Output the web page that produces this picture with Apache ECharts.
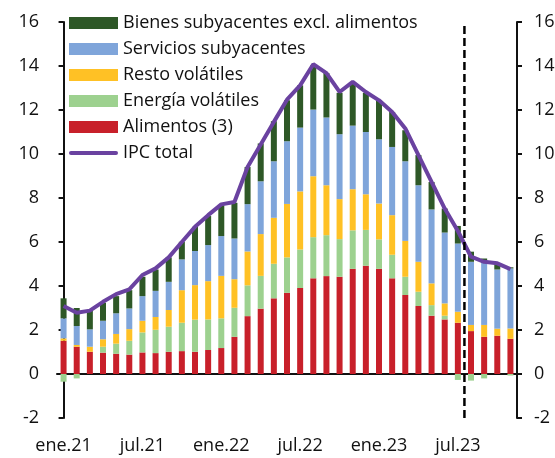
<!DOCTYPE html>
<html>
<head>
<meta charset="utf-8">
<script src="https://cdn.jsdelivr.net/npm/echarts/dist/echarts.min.js"></script>
<style>
    html, body { margin: 0; padding: 0; background: #fff; }
    #main { width: 555px; height: 458px; }
</style>
</head>
<body>
<div id="main"></div>
<script>
// meses ene.21 - nov.23
const meses = ['ene', 'feb', 'mar', 'abr', 'may', 'jun', 'jul', 'ago', 'sep', 'oct', 'nov', 'dic'];
const anios = ['21', '22', '23'];
const categorias = [];
for (let a = 0; a < anios.length; a++) {
    for (let m = 0; m < meses.length; m++) {
        categorias.push(meses[m] + '.' + anios[a]);
    }
}
categorias.length = 35;

// contribuciones (pp)
const alimentos = [1.51, 1.24, 1.01, 0.97, 0.92, 0.88, 0.98, 0.95, 1.01, 1.04, 1.01, 1.09, 1.18, 1.69, 2.63, 2.97, 3.44, 3.69, 3.91, 4.35, 4.45, 4.42, 4.78, 4.92, 4.78, 4.35, 3.59, 3.09, 2.65, 2.48, 2.33, 1.95, 1.69, 1.74, 1.60];
const energia = [-0.35, -0.2, 0, 0.27, 0.46, 0.63, 0.91, 1.06, 1.14, 1.29, 1.46, 1.39, 1.35, 1.32, 1.4, 1.49, 1.57, 1.61, 1.75, 1.87, 1.86, 1.71, 1.75, 1.63, 1.34, 1.07, 0.83, 0.65, 0.48, 0.17, -0.27, -0.3, -0.2, 0, -0.07];
const resto = [0.11, 0.08, 0.23, 0.34, 0.44, 0.53, 0.53, 0.58, 0.76, 1.48, 1.57, 1.74, 1.93, 1.3, 1.54, 1.9, 2.09, 2.43, 2.64, 2.77, 2.27, 1.82, 1.87, 1.62, 1.63, 1.8, 1.63, 1.36, 0.99, 0.56, 0.5, 0.28, 0.54, 0.32, 0.47];
const servicios = [0.91, 0.86, 0.79, 0.84, 0.94, 0.94, 1.12, 1.19, 1.28, 1.4, 1.55, 1.64, 1.81, 1.85, 2.15, 2.4, 2.57, 2.85, 2.9, 3.03, 3.08, 2.95, 2.89, 2.83, 2.92, 3.1, 3.62, 3.48, 3.36, 3.22, 3.1, 2.87, 2.83, 2.69, 2.73];
const bienes = [0.91, 0.82, 0.87, 0.82, 0.78, 0.83, 0.88, 0.97, 1.11, 0.8, 1.1, 1.32, 1.4, 1.62, 1.69, 1.72, 1.82, 1.86, 1.92, 2.01, 2.02, 1.88, 1.91, 1.78, 1.74, 1.59, 1.41, 1.37, 1.25, 1.09, 0.8, 0.46, 0.19, 0.23, 0.05];
const ipcTotal = [3.09, 2.78, 2.88, 3.28, 3.63, 3.85, 4.5, 4.8, 5.3, 6.0, 6.69, 7.22, 7.71, 7.82, 9.41, 10.43, 11.46, 12.47, 13.12, 14.08, 13.68, 12.82, 13.28, 12.82, 12.44, 11.91, 11.16, 9.95, 8.73, 7.52, 6.5, 5.33, 5.1, 5.03, 4.77];

// linea vertical punteada (entre jul.23 y ago.23)
const corte = 30.5;

const fuente = 'Open Sans';
const negro = '#111';
const morado = '#6a42a0';

function barra(nombre, datos, color) {
    return {
        name: nombre,
        type: 'bar',
        stack: 'total',
        barWidth: 6,
        data: datos,
        itemStyle: { color: color }
    };
}

function ejeY(pos) {
    return {
        type: 'value',
        position: pos,
        min: -2,
        max: 16,
        interval: 2,
        axisLine: { show: true, lineStyle: { color: negro, width: 2 } },
        axisTick: { show: true, length: 5, lineStyle: { color: negro, width: 2 } },
        axisLabel: { color: negro, fontSize: 18, fontFamily: fuente, margin: pos == 'left' ? 18 : 17 },
        splitLine: { show: false }
    };
}

let option = {
    animation: false,
    grid: { left: 57, right: 38, top: 22, bottom: 40, outerBoundsMode: 'none' },
    legend: {
        orient: 'vertical',
        left: 64,
        top: 8,
        itemWidth: 49,
        itemHeight: 12,
        itemGap: 6,
        textStyle: { color: negro, fontSize: 18, fontFamily: fuente, lineHeight: 20 },
        data: [
            { name: 'Bienes subyacentes excl. alimentos', icon: 'rect' },
            { name: 'Servicios subyacentes', icon: 'rect' },
            { name: 'Resto volátiles', icon: 'rect' },
            { name: 'Energía volátiles', icon: 'rect' },
            { name: 'Alimentos (3)', icon: 'rect' },
            { name: 'IPC total', icon: 'path://M2,0 L47,0 A2,2 0 0 1 47,4 L2,4 A2,2 0 0 1 2,0 Z' }
        ]
    },
    xAxis: [{
        // etiquetas abajo
        type: 'category',
        data: categorias,
        axisLine: { show: false, onZero: false },
        axisTick: { show: false },
        axisLabel: { interval: 5, color: negro, fontSize: 18, fontFamily: fuente, margin: 19 }
    }, {
        // linea del cero con marcas
        type: 'category',
        data: categorias,
        axisLine: { onZero: true, lineStyle: { color: negro, width: 2 } },
        axisTick: { interval: 5, length: 6, lineStyle: { color: negro, width: 2 } },
        axisLabel: { show: false }
    }, {
        type: 'value',
        min: -0.5,
        max: 34.5,
        show: false
    }],
    yAxis: [ejeY('left'), ejeY('right')],
    series: [
        barra('Alimentos (3)', alimentos, '#c8202a'),
        barra('Energía volátiles', energia, '#9dd18f'),
        barra('Resto volátiles', resto, '#ffc125'),
        barra('Servicios subyacentes', servicios, '#7fa5da'),
        barra('Bienes subyacentes excl. alimentos', bienes, '#2e5827'),
        {
            name: 'IPC total',
            type: 'line',
            data: ipcTotal,
            symbol: 'none',
            lineStyle: { color: morado, width: 4 },
            itemStyle: { color: morado },
            z: 5
        },
        {
            name: 'corte',
            type: 'line',
            xAxisIndex: 2,
            data: [[corte, -2], [corte, 16]],
            symbol: 'none',
            lineStyle: { color: '#000', width: 2.5, type: [8, 4] },
            z: 6
        }
    ]
};

echarts.init(document.getElementById('main')).setOption(option);
</script>
</body>
</html>
